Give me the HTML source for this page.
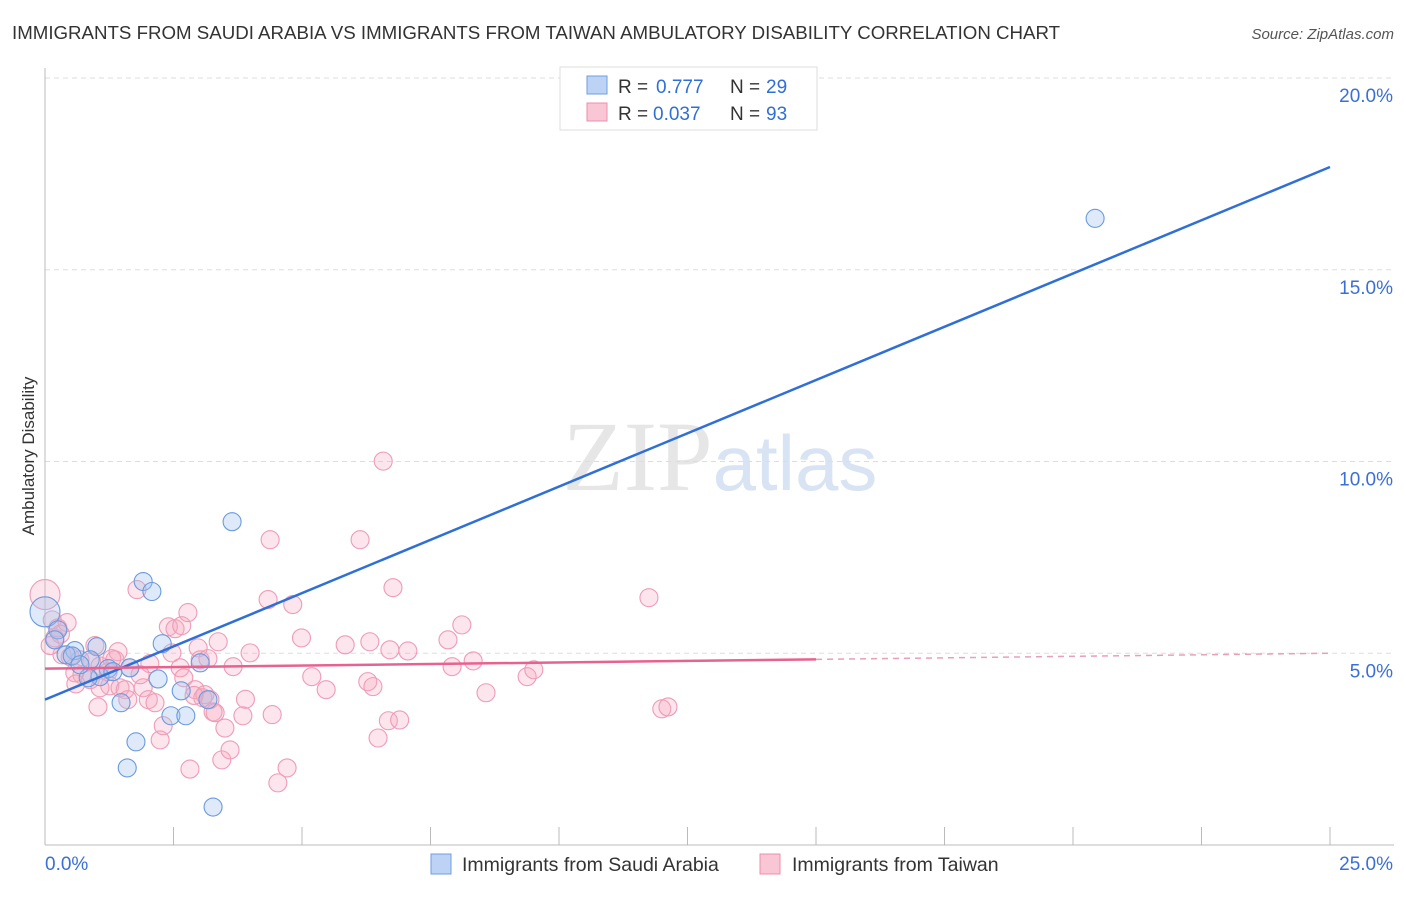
<!DOCTYPE html>
<html><head><meta charset="utf-8"><style>
body{margin:0;background:#fff;font-family:"Liberation Sans",sans-serif;}
</style></head><body>
<svg id="chart" width="1406" height="892" xmlns="http://www.w3.org/2000/svg" font-family="Liberation Sans, sans-serif">
<text x="12" y="39" font-size="18.7" fill="#333">IMMIGRANTS FROM SAUDI ARABIA VS IMMIGRANTS FROM TAIWAN AMBULATORY DISABILITY CORRELATION CHART</text>
<text x="1394" y="39" font-size="15" fill="#555" text-anchor="end" font-style="italic">Source: ZipAtlas.com</text>
<text x="720" y="490" font-size="100" text-anchor="middle" fill="#e6e6e6" font-family="Liberation Serif, serif">ZIP<tspan fill="#d8e4f4" font-family="Liberation Sans, sans-serif" font-size="78">atlas</tspan></text>
<text transform="translate(34,456) rotate(-90)" font-size="17" fill="#333" text-anchor="middle">Ambulatory Disability</text>
<g id="grid"></g><g id="axes"></g><g id="pts"></g><g id="lines"></g>
<g>
<rect x="560" y="67" width="257" height="63" fill="#fff" stroke="#ddd"/>
<rect x="587" y="76" width="20" height="18" fill="#bcd3f5" stroke="#6f9ee0"/>
<text x="618" y="93" font-size="19" fill="#333">R = </text><text x="656" y="93" font-size="19" fill="#2f6fd6">0.777</text>
<text x="730" y="93" font-size="19" fill="#333">N = </text><text x="766" y="93" font-size="19" fill="#2f6fd6">29</text>
<rect x="587" y="103" width="20" height="18" fill="#f9c6d5" stroke="#ec8fab"/>
<text x="618" y="120" font-size="19" fill="#333">R = </text><text x="653" y="120" font-size="19" fill="#2f6fd6">0.037</text>
<text x="730" y="120" font-size="19" fill="#333">N = </text><text x="766" y="120" font-size="19" fill="#2f6fd6">93</text>
</g>
<g>
<rect x="431" y="854" width="20" height="20" fill="#bcd3f5" stroke="#6f9ee0"/>
<text x="462" y="871" font-size="19.5" fill="#333">Immigrants from Saudi Arabia</text>
<rect x="760" y="854" width="20" height="20" fill="#f9c6d5" stroke="#ec8fab"/>
<text x="792" y="871" font-size="19.5" fill="#333">Immigrants from Taiwan</text>
</g>
</svg>
<script>
const xTicks=[0,2.5,5,7.5,10,12.5,15,17.5,20,22.5,25];
const yTicks=[5,10,15,20];
const yTickLabels=["5.0%","10.0%","15.0%","20.0%"];
const saudiX=[20.43,3.64,1.91,2.08,0,0.25,0.19,1.01,2.28,0.58,0.41,0.88,1.65,3.02,1.23,1.07,0.84,2.2,2.65,3.17,1.48,2.45,2.74,1.77,1.6,3.27,0.53,1.32,0.68];
const saudiY=[16.34,8.43,6.87,6.61,6.08,5.61,5.35,5.17,5.25,5.07,4.96,4.83,4.62,4.75,4.6,4.39,4.36,4.33,4.02,3.79,3.71,3.37,3.37,2.69,2.01,0.99,4.93,4.52,4.7];
const taiwanX=[0,0.14,0.25,0.19,0.33,0.49,0.68,0.91,1.07,1.36,1.42,1.23,0.72,0.88,0.58,1.03,1.26,1.46,1.56,1.61,1.79,1.91,2.01,2.04,2.14,2.24,2.3,2.4,2.47,2.53,2.63,2.66,2.7,2.78,2.82,2.92,2.98,3.02,3.07,3.11,3.17,3.21,3.27,3.31,3.37,3.44,3.5,3.6,3.66,3.85,3.99,4.34,4.38,4.42,4.53,4.71,4.82,4.99,5.19,5.47,5.84,6.13,6.28,6.32,6.38,6.48,6.58,6.68,6.71,6.77,6.9,7.06,7.84,7.92,8.11,8.33,8.58,9.38,9.51,11.75,12.0,12.12,1.3,1.65,1.85,0.43,0.97,1.07,0.3,0.1,0.6,2.9,3.9];
const taiwanY=[6.53,5.87,5.66,5.4,4.96,4.91,4.83,4.78,4.67,4.83,5.04,4.52,4.44,4.31,4.49,3.6,4.15,4.1,4.05,3.79,6.66,4.1,3.79,4.73,3.71,2.74,3.11,5.69,5.01,5.64,4.62,5.72,4.36,6.06,1.98,4.05,5.14,4.83,3.84,3.92,4.86,3.79,3.47,3.45,5.3,2.22,3.05,2.48,4.65,3.37,5.01,6.4,7.96,3.4,1.62,2.01,6.27,5.4,4.39,4.05,5.22,7.96,4.26,5.3,4.13,2.79,10.01,3.24,5.09,6.71,3.26,5.06,5.35,4.65,5.74,4.8,3.97,4.39,4.57,6.45,3.55,3.6,4.86,4.62,4.44,5.8,5.2,4.1,5.5,5.2,4.2,3.9,3.8];
const blueLine=[3.79,17.68];
const pinkLine=[4.6,5.0];
const X0=45,XW=1285,Y0=845,YS=38.35;
const sx=v=>X0+v/25*XW, sy=v=>Y0-v*YS;
const NS="http://www.w3.org/2000/svg";
function mk(parent,tag,attrs){const e=document.createElementNS(NS,tag);for(const k in attrs)e.setAttribute(k,attrs[k]);document.getElementById(parent).appendChild(e);return e;}
yTicks.forEach((t,i)=>{
 const g=mk('grid','line',{x1:X0,x2:1394,y1:sy(t),y2:sy(t),stroke:'#ddd','stroke-dasharray':'5,4'});
 
 
 const l=mk('axes','text',{x:1393,y:sy(t)+24,'font-size':19,fill:'#3a6fd8','text-anchor':'end'});
 l.textContent=yTickLabels[i];
 
 
});
const ax=mk('axes','line',{x1:X0,x2:1394,y1:Y0,y2:Y0,stroke:'#bbb'});


const ay=mk('axes','line',{x1:X0,x2:X0,y1:68,y2:Y0,stroke:'#bbb'});


xTicks.forEach(t=>{const k=mk('axes','line',{x1:sx(t),x2:sx(t),y1:Y0-18,y2:Y0,stroke:'#bbb'});
 
 });
const xl0=mk('axes','text',{x:45,y:870,'font-size':19,fill:'#3a6fd8'});xl0.textContent='0.0%';


const xl1=mk('axes','text',{x:1393,y:870,'font-size':19,fill:'#3a6fd8','text-anchor':'end'});xl1.textContent='25.0%';


taiwanX.forEach((x,i)=>{const c=mk('pts','circle',{cx:sx(x),cy:sy(taiwanY[i]),r:i==0?15:9,fill:'rgba(246,168,192,0.3)',stroke:'#ef9bb6','stroke-width':1.1});
 
 });
saudiX.forEach((x,i)=>{const c=mk('pts','circle',{cx:sx(x),cy:sy(saudiY[i]),r:i==4?15:9,fill:'rgba(160,195,240,0.35)',stroke:'#6b9ade','stroke-width':1.1});
 
 });
const bl=mk('lines','line',{x1:sx(0),y1:sy(blueLine[0]),x2:sx(25),y2:sy(blueLine[1]),stroke:'#2f6fd6','stroke-width':2.5});


const pm=pinkLine[0]+(pinkLine[1]-pinkLine[0])*0.6;
const pl=mk('lines','line',{x1:sx(0),y1:sy(pinkLine[0]),x2:sx(15),y2:sy(pm),stroke:'#e8628f','stroke-width':2.5});


const pd=mk('lines','line',{x1:sx(15),y1:sy(pm),x2:sx(25),y2:sy(pinkLine[1]),stroke:'#e8a0b8','stroke-width':1.5,'stroke-dasharray':'6,5'});


</script>
</body></html>
